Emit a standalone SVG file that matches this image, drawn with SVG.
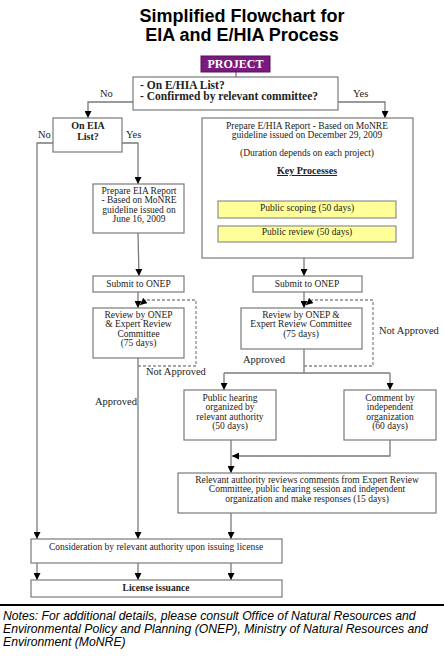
<svg xmlns="http://www.w3.org/2000/svg" width="444" height="659" viewBox="0 0 444 659">
<style>
.box{fill:#fff;stroke:#7a7a7a;stroke-width:1.2}
.yel{fill:#ffff99;stroke:#7a7a7a;stroke-width:1}
.t{font-family:"Liberation Serif",serif;font-size:9.5px;fill:#222;text-anchor:middle}
.b{font-weight:bold}
.c{fill:none;stroke:#7a7a7a;stroke-width:1.3}
.d{fill:none;stroke:#8a8a8a;stroke-width:1.3;stroke-dasharray:3,2}
.lbl{font-family:"Liberation Serif",serif;font-size:10.5px;fill:#222}
</style>
<defs>
<marker id="ah" viewBox="0 0 10 10" refX="10" refY="5" markerWidth="7" markerHeight="7" markerUnits="userSpaceOnUse" orient="auto">
<path d="M0,0 L10,5 L0,10 z" fill="#000"/>
</marker>
</defs>
<rect width="444" height="659" fill="#fff"/>
<g id="title" font-family="Liberation Sans,Arial,sans-serif" font-weight="bold" font-size="18" text-anchor="middle" fill="#000">
<text x="242" y="21.5">Simplified Flowchart for</text>
<text x="242" y="40.5">EIA and E/HIA Process</text>
</g>
<g id="connectors">
<path class="c" d="M236,72 V88" marker-end="url(#ah)"/>
<path class="c" d="M133,102 H88 V118" marker-end="url(#ah)"/>
<path class="c" d="M338,102 H385 V118" marker-end="url(#ah)"/>
<path class="c" d="M53,143 H37 V539" marker-end="url(#ah)"/>
<path class="c" d="M122,143 H138 V184" marker-end="url(#ah)"/>
<path class="c" d="M138,233 L139,276" marker-end="url(#ah)"/>
<path class="c" d="M138,292 V308" marker-end="url(#ah)"/>
<path class="d" d="M138,366 H196 V300 H146"/>
<path class="c" d="M146,300 L140,305" marker-end="url(#ah)"/>
<path class="c" d="M138,358 V539" marker-end="url(#ah)"/>
<path class="c" d="M304,258 V276" marker-end="url(#ah)"/>
<path class="c" d="M304,292 V308" marker-end="url(#ah)"/>
<path class="d" d="M304,366 H373 V300 H312"/>
<path class="c" d="M312,300 L306,305" marker-end="url(#ah)"/>
<path class="c" d="M304,349 V373"/>
<path class="c" d="M224,373 H390"/>
<path class="c" d="M224,373 V390" marker-end="url(#ah)"/>
<path class="c" d="M390,373 V390" marker-end="url(#ah)"/>
<path class="c" d="M231,440 V473" marker-end="url(#ah)"/>
<path class="c" d="M390,440 V456 H232" marker-end="url(#ah)"/>
<path class="c" d="M231,513 V539" marker-end="url(#ah)"/>
<path class="c" d="M37,563 V580" marker-end="url(#ah)"/>
<path class="c" d="M138,563 V580" marker-end="url(#ah)"/>
<path class="c" d="M231,563 V580" marker-end="url(#ah)"/>
</g>
<g id="labels">
<text class="lbl" x="100" y="97">No</text>
<text class="lbl" x="353" y="97">Yes</text>
<text class="lbl" x="38" y="138">No</text>
<text class="lbl" x="126" y="138">Yes</text>
<text class="lbl" x="146" y="375">Not Approved</text>
<text class="lbl" x="95" y="405">Approved</text>
<text class="lbl" x="379" y="334">Not Approved</text>
<text class="lbl" x="243" y="363">Approved</text>
</g>
<g id="project">
<rect x="201" y="56" width="69" height="16" fill="#7b1a7e" stroke="#5a105a" stroke-width="1"/>
<text class="t b" x="235.5" y="68" style="fill:#fff;font-size:12px">PROJECT</text>
</g>
<g id="decision">
<rect class="box" x="133" y="77" width="205" height="33"/>
<text class="t b" x="140" y="88.5" style="text-anchor:start;font-size:11.5px">- On E/HIA List?</text>
<text class="t b" x="140" y="99.5" style="text-anchor:start;font-size:11.5px">- Confirmed by relevant committee?</text>
</g>
<g id="oneia">
<rect class="box" x="53" y="118" width="69" height="34"/>
<text class="t b" x="88" y="129" style="font-size:10px">On EIA</text>
<text class="t b" x="88" y="139.5" style="font-size:10px">List?</text>
</g>
<g id="prepeia">
<rect class="box" x="93" y="184" width="91" height="49"/>
<text class="t" x="139" y="193.5">Prepare EIA Report</text>
<text class="t" x="139" y="203">- Based on MoNRE</text>
<text class="t" x="139" y="212.5">guideline issued on</text>
<text class="t" x="139" y="222">June 16, 2009</text>
</g>
<g id="submit1">
<rect class="box" x="93" y="276" width="91" height="16"/>
<text class="t" x="138.5" y="287">Submit to ONEP</text>
</g>
<g id="review1">
<rect class="box" x="93" y="308" width="91" height="50"/>
<text class="t" x="138.5" y="317.5">Review by ONEP</text>
<text class="t" x="138.5" y="327">&amp; Expert Review</text>
<text class="t" x="138.5" y="336.5">Committee</text>
<text class="t" x="138.5" y="346">(75 days)</text>
</g>
<g id="prepehia">
<rect class="box" x="202" y="118" width="211" height="140"/>
<text class="t" x="307" y="128.5">Prepare E/HIA Report - Based on MoNRE</text>
<text class="t" x="307" y="138">guideline issued on December 29, 2009</text>
<text class="t" x="307" y="156">(Duration depends on each project)</text>
<text class="t b" x="307" y="174" text-decoration="underline" style="font-size:10px">Key Processes</text>
<rect class="yel" x="218" y="201" width="178" height="17"/>
<text class="t" x="307" y="211">Public scoping (50 days)</text>
<rect class="yel" x="218" y="226" width="178" height="16"/>
<text class="t" x="307" y="235">Public review (50 days)</text>
</g>
<g id="submit2">
<rect class="box" x="253" y="276" width="109" height="16"/>
<text class="t" x="307" y="287">Submit to ONEP</text>
</g>
<g id="review2">
<rect class="box" x="241" y="308" width="121" height="41"/>
<text class="t" x="301" y="317.5">Review by ONEP &amp;</text>
<text class="t" x="301" y="327">Expert Review Committee</text>
<text class="t" x="301" y="336.5">(75 days)</text>
</g>
<g id="hearing">
<rect class="box" x="184" y="390" width="92" height="50"/>
<text class="t" x="230" y="400.5">Public hearing</text>
<text class="t" x="230" y="410">organized by</text>
<text class="t" x="230" y="419.5">relevant authority</text>
<text class="t" x="230" y="429">(50 days)</text>
</g>
<g id="comment">
<rect class="box" x="344" y="390" width="92" height="50"/>
<text class="t" x="390" y="400.5">Comment by</text>
<text class="t" x="390" y="410">independent</text>
<text class="t" x="390" y="419.5">organization</text>
<text class="t" x="390" y="429">(60 days)</text>
</g>
<g id="relevant">
<rect class="box" x="178" y="473" width="258" height="40"/>
<text class="t" x="307" y="482.5">Relevant authority reviews comments from Expert Review</text>
<text class="t" x="307" y="492">Committee, public hearing session and independent</text>
<text class="t" x="307" y="501.5">organization and make responses (15 days)</text>
</g>
<g id="consideration">
<rect class="box" x="31" y="539" width="251" height="24"/>
<text class="t" x="156" y="550">Consideration by relevant authority upon issuing license</text>
</g>
<g id="license">
<rect class="box" x="31" y="580" width="251" height="17"/>
<text class="t b" x="156" y="591">License issuance</text>
</g>
<g id="notes">
<line x1="0" y1="605" x2="444" y2="605" stroke="#000" stroke-width="2"/>
<g font-family="Liberation Sans,Arial,sans-serif" font-style="italic" font-size="12.2" fill="#000">
<text x="3" y="620">Notes: For additional details, please consult Office of Natural Resources and</text>
<text x="3" y="633">Environmental Policy and Planning (ONEP), Ministry of Natural Resources and</text>
<text x="3" y="646">Environment (MoNRE)</text>
</g>
</g>
</svg>
